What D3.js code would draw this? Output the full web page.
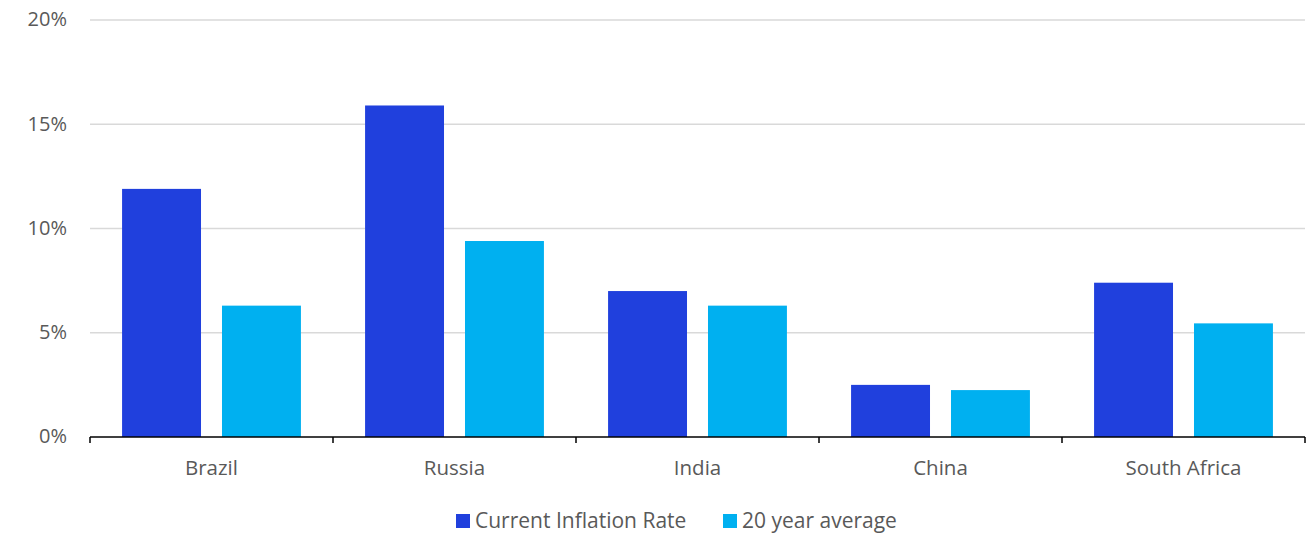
<!DOCTYPE html>
<html>
<head>
<meta charset="utf-8">
<script src="https://cdn.jsdelivr.net/npm/d3@7"></script>
<style>
  body { margin: 0; background: #fff; }
  text { font-family: "Open Sans", "Noto Sans", sans-serif; fill: #595959; }
</style>
</head>
<body>
<div id="chart"></div>
<script>
// BRICS inflation: current vs 20 year average
const categories = ["Brazil", "Russia", "India", "China", "South Africa"];
const seriesNames = ["Current Inflation Rate", "20 year average"];
const currentRate = [11.9, 15.9, 7.0, 2.5, 7.4];
const twentyYearAvg = [6.3, 9.4, 6.3, 2.25, 5.45];
const yTicks = [0, 5, 10, 15, 20];

const colors = ["#2040dd", "#00b0f0"];

const W = 1313, H = 534;
const margin = { top: 20, right: 8, bottom: 97, left: 90 };
const width = W - margin.left - margin.right;
const height = H - margin.top - margin.bottom;

const svg = d3.select("#chart")
    .append("svg")
    .attr("width", W)
    .attr("height", H);

const g = svg.append("g")
    .attr("transform", `translate(${margin.left},${margin.top})`);

const data = categories.map((c, i) => ({
    name: c,
    values: [currentRate[i], twentyYearAvg[i]]
}));

// Scales
const x0 = d3.scaleBand().domain(categories).range([0, width]).padding(0);
const pad = x0.bandwidth() * 0.132;
const x1 = d3.scaleBand()
    .domain(d3.range(seriesNames.length))
    .range([pad, x0.bandwidth() - pad])
    .paddingInner(0.21)
    .paddingOuter(0);

const y = d3.scaleLinear().domain([0, 20]).range([height, 0]);

// Grid
g.append("g")
    .selectAll("line")
    .data(yTicks.filter(d => d > 0))
    .enter()
    .append("line")
    .attr("x1", 0)
    .attr("x2", width)
    .attr("y1", d => y(d))
    .attr("y2", d => y(d))
    .attr("stroke", "#d9d9d9")
    .attr("stroke-width", 1.5);

// Y labels
g.append("g")
    .selectAll("text")
    .data(yTicks)
    .enter()
    .append("text")
    .attr("x", -23)
    .attr("y", d => y(d) + 1)
    .attr("text-anchor", "end")
    .attr("dominant-baseline", "middle")
    .style("font-size", "20px")
    .text(d => d + "%");

// Bars
const groups = g.selectAll(".cat")
    .data(data)
    .enter()
    .append("g")
    .attr("class", "cat")
    .attr("transform", d => `translate(${x0(d.name)},0)`);

groups.selectAll("rect")
    .data(d => d.values)
    .enter()
    .append("rect")
    .attr("x", (d, i) => x1(i))
    .attr("width", x1.bandwidth())
    .attr("y", d => y(d))
    .attr("height", d => height - y(d))
    .attr("fill", (d, i) => colors[i]);

// X axis
const xAxis = g.append("g").attr("transform", `translate(0,${height})`);
xAxis.append("line")
    .attr("x1", 0).attr("x2", width)
    .attr("stroke", "#000").attr("stroke-width", 1.5);
xAxis.selectAll(".tick")
    .data(d3.range(categories.length + 1))
    .enter()
    .append("line")
    .attr("x1", i => i * x0.step())
    .attr("x2", i => i * x0.step())
    .attr("y1", 0).attr("y2", 6)
    .attr("stroke", "#000").attr("stroke-width", 1.5);
xAxis.selectAll("text")
    .data(categories)
    .enter()
    .append("text")
    .attr("x", d => x0(d) + x0.bandwidth() / 2)
    .attr("y", 33)
    .attr("text-anchor", "middle")
    .attr("dominant-baseline", "middle")
    .style("font-size", "20.5px")
    .text(d => d);

// Legend
const legend = svg.append("g").attr("transform", `translate(456,521)`);
const offsets = [0, 267];
seriesNames.forEach((s, i) => {
    const lg = legend.append("g").attr("transform", `translate(${offsets[i]},0)`);
    lg.append("rect")
        .attr("x", 0).attr("y", -7)
        .attr("width", 14).attr("height", 14)
        .attr("fill", colors[i]);
    lg.append("text")
        .attr("x", 19).attr("y", 1.5)
        .attr("dominant-baseline", "middle")
        .style("font-size", "21px")
        .text(s);
});
</script>
</body>
</html>
